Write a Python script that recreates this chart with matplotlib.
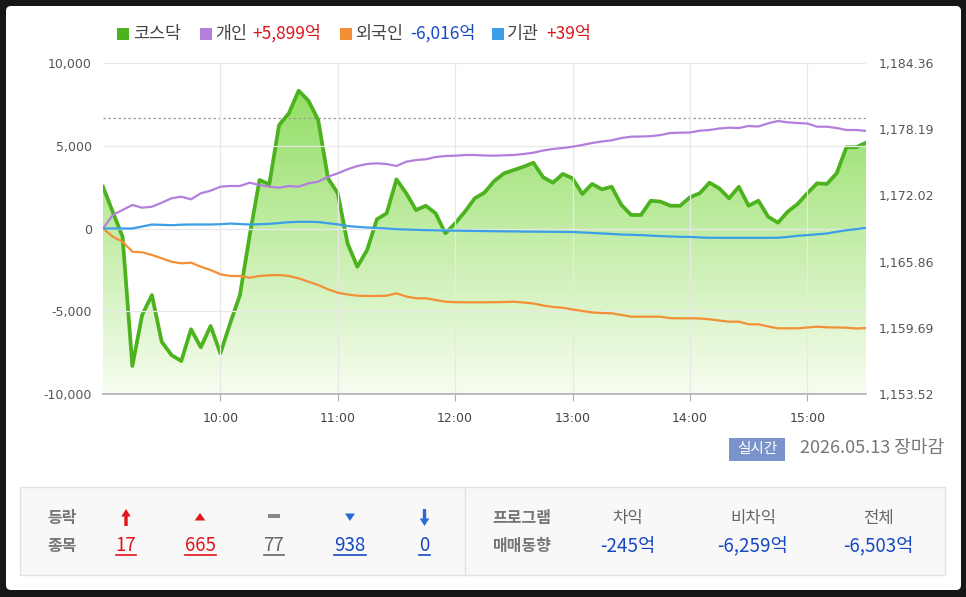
import numpy as np
import pandas as pd
import matplotlib
matplotlib.use('Agg')
import matplotlib.pyplot as plt
import matplotlib.dates as mdates
from matplotlib.patches import FancyBboxPatch, Rectangle, FancyArrow, Polygon
from matplotlib.ticker import FuncFormatter

plt.rcParams['font.family'] = ['Noto Sans CJK KR', 'DejaVu Sans']

# 5-minute points, 09:00 - 15:30
times = pd.date_range('2026-05-13 09:00', '2026-05-13 15:30', freq='5min')

# KOSDAQ index (right axis)
kosdaq = [
    1172.83, 1170.48, 1168.18, 1156.13, 1160.88, 1162.74, 1158.39, 1157.15, 1156.59, 1159.55, 1157.87, 1159.86,
    1157.31, 1160.11, 1162.74, 1168.33, 1173.46, 1173.06, 1178.58, 1179.67, 1181.78, 1180.85, 1179.05, 1173.62,
    1172.22, 1167.56, 1165.38, 1166.94, 1169.80, 1170.36, 1173.52, 1172.22, 1170.66, 1171.06, 1170.36, 1168.49,
    1169.42, 1170.51, 1171.75, 1172.29, 1173.37, 1174.08, 1174.39, 1174.70, 1175.07, 1173.71, 1173.21, 1174.02,
    1173.62, 1172.15, 1173.09, 1172.59, 1172.83, 1171.13, 1170.20, 1170.20, 1171.53, 1171.44, 1171.06, 1171.06,
    1171.85, 1172.22, 1173.21, 1172.68, 1171.75, 1172.83, 1171.06, 1171.53, 1170.04, 1169.48, 1170.51, 1171.22,
    1172.22, 1173.15, 1173.09, 1174.08, 1176.51, 1176.51, 1176.93,
]

# net buying, 억 (left axis)
individual = [
    0, 816, 1118, 1420, 1257, 1317, 1559, 1825, 1921, 1764, 2127, 2284,
    2526, 2568, 2568, 2767, 2628, 2526, 2465, 2568, 2526, 2731, 2828, 3130,
    3335, 3577, 3776, 3897, 3939, 3897, 3776, 4036, 4139, 4181, 4320, 4380,
    4399, 4441, 4441, 4411, 4399, 4423, 4441, 4501, 4580, 4713, 4803, 4864,
    4942, 5045, 5166, 5257, 5329, 5468, 5547, 5559, 5577, 5649, 5770, 5788,
    5800, 5909, 5951, 6042, 6090, 6072, 6193, 6163, 6356, 6495, 6416, 6374,
    6344, 6151, 6151, 6072, 5951, 5951, 5899,
]
foreign = [
    0, -495, -798, -1402, -1438, -1601, -1800, -2006, -2103, -2066, -2308, -2507,
    -2767, -2870, -2870, -2973, -2870, -2828, -2810, -2870, -3009, -3214, -3414, -3673,
    -3879, -3988, -4060, -4078, -4078, -4060, -3915, -4109, -4217, -4217, -4320, -4423,
    -4453, -4459, -4459, -4459, -4453, -4441, -4423, -4471, -4532, -4652, -4743, -4785,
    -4894, -4985, -5075, -5105, -5124, -5226, -5329, -5329, -5329, -5329, -5420, -5426,
    -5426, -5438, -5486, -5559, -5631, -5631, -5788, -5788, -5921, -6030, -6030, -6030,
    -5982, -5933, -5970, -5982, -5994, -6042, -6016,
]
institution = [
    0, 0, 0, 0, 120, 240, 220, 200, 230, 242, 242, 242,
    260, 300, 270, 242, 260, 280, 330, 380, 405, 405, 390, 320,
    250, 150, 100, 60, 30, 0, -42, -60, -80, -100, -110, -120,
    -130, -139, -145, -155, -163, -170, -175, -185, -190, -195, -199, -205,
    -210, -240, -270, -300, -330, -363, -380, -400, -430, -460, -480, -501,
    -510, -540, -560, -562, -562, -562, -562, -562, -562, -560, -510, -441,
    -400, -350, -302, -200, -103, -40, 39,
]

kosdaq_lim = (1153.52, 1184.36)
kosdaq_ref = 1179.23
flow_lim = (-10000, 10000)
flow_ticks = [-10000, -5000, 0, 5000, 10000]

legend_names = ['코스닥', '개인', '외국인', '기관']
legend_values = ['', '+5,899억', '-6,016억', '+39억']

updown_counts = ['17', '665', '77', '938', '0']
program_labels = ['차익', '비차익', '전체']
program_values = ['-245억', '-6,259억', '-6,503억']
date_text = '2026.05.13 장마감'

GREEN = '#4cb31f'
PURPLE = '#b47fdc'
ORANGE = '#f39035'
BLUE = '#3b9ee6'
RED = '#e0161c'
DBLUE = '#1748c4'
GRAY = '#777777'

fig = plt.figure(figsize=(9.66, 5.97), dpi=100)
fig.patch.set_facecolor('#161616')

# pixel overlay for frame, legend and bottom panel
bg = fig.add_axes([0, 0, 1, 1])
bg.set_xlim(0, 966)
bg.set_ylim(597, 0)
bg.axis('off')
bg.set_zorder(0)
bg.add_patch(FancyBboxPatch((6, 6), 955, 584, boxstyle='round,pad=0,rounding_size=5',
                            fc='white', ec='none'))

# main chart
rect = [103 / 966, 1 - 394 / 597, 763 / 966, 331 / 597]
ax = fig.add_axes(rect)
ax2 = ax.twinx()
ax.set_zorder(2)
ax2.set_zorder(1)
ax.patch.set_visible(False)
ax2.patch.set_visible(False)

# gradient area under kosdaq
x0, x1 = mdates.date2num(times[0]), mdates.date2num(times[-1])
top = np.array([138, 220, 88]) / 255
bot = np.array([247, 253, 240]) / 255
frac = np.linspace(0, 1, 256)[:, None]
grad = (top * (1 - frac) + bot * frac)[:, None, :]
poly = ax2.fill_between(times, kosdaq, kosdaq_lim[0], color='none', lw=0)
img = ax2.imshow(grad, extent=[x0, x1, kosdaq_lim[0], kosdaq_lim[1]], aspect='auto',
                 origin='upper', zorder=1)
img.set_clip_path(poly.get_paths()[0], transform=ax2.transData)
ax2.axhline(kosdaq_ref, color='#9a9a9a', lw=0.9, ls=(0, (2, 2)), zorder=2)
ax2.plot(times, kosdaq, color=GREEN, lw=2.7, zorder=3, solid_joinstyle='round')

ax.plot(times, individual, color=PURPLE, lw=1.6)
ax.plot(times, foreign, color=ORANGE, lw=1.6)
ax.plot(times, institution, color=BLUE, lw=1.6)

ax.set_xlim(times[0], times[-1])
ax.set_ylim(*flow_lim)
ax2.set_ylim(*kosdaq_lim)
ax.set_yticks(flow_ticks)
ax.yaxis.set_major_formatter(FuncFormatter(lambda v, p: f'{v:,.0f}'))
ax2.set_yticks(np.linspace(kosdaq_lim[0], kosdaq_lim[1], 6))
ax2.yaxis.set_major_formatter(FuncFormatter(lambda v, p: f'{v:,.2f}'))
ax.xaxis.set_major_locator(mdates.HourLocator(byhour=range(10, 16)))
ax.xaxis.set_major_formatter(mdates.DateFormatter('%H:%M'))

ax.grid(True, color='#e8e8e8', lw=0.9)
for s in ['top', 'left', 'right']:
    ax.spines[s].set_visible(False)
for s in ax2.spines.values():
    s.set_visible(False)
ax.spines['bottom'].set_color('#b0b0b0')
ax.spines['bottom'].set_linewidth(1.2)

ax.tick_params(axis='y', length=0, pad=8, labelsize=9, labelcolor='#555555',
               labelfontfamily='DejaVu Sans')
ax2.tick_params(axis='y', length=0, pad=9, labelsize=9, labelcolor='#555555',
                labelfontfamily='DejaVu Sans')
ax.tick_params(axis='x', length=5, color='#b0b0b0', pad=8, labelsize=9,
               labelcolor='#444444', labelfontfamily='DejaVu Sans')

# legend
sq_x = [117, 200, 340, 491.7]
name_x = [133, 215, 355, 507]
val_x = [None, 252.5, 410.5, 546]
val_col = [None, RED, DBLUE, RED]
colors = [GREEN, PURPLE, ORANGE, BLUE]
for i in range(4):
    bg.add_patch(Rectangle((sq_x[i], 27.5), 12, 12, fc=colors[i], ec='none'))
    bg.text(name_x[i], 33.5, legend_names[i], fontsize=12.5, color='#444444',
            ha='left', va='center')
    if legend_values[i]:
        bg.text(val_x[i], 33.5, legend_values[i], fontsize=12.5, color=val_col[i],
                ha='left', va='center')

# realtime badge + date
bg.add_patch(Rectangle((729, 437.5), 56, 23, fc='#7b93cb', ec='none'))
bg.text(757, 449, '실시간', color='white', fontsize=10.5, ha='center', va='center')
bg.text(800, 448.5, date_text, color=GRAY, fontsize=13, ha='left', va='center')

# bottom panel
bg.add_patch(Rectangle((20, 487), 925, 88, fc='#f8f8f8', ec='#e2e2e2', lw=1))
bg.plot([465, 465], [487, 575], color='#e2e2e2', lw=1)

bg.text(62, 518, '등락', fontsize=11.5, color=GRAY, fontweight='bold', ha='center', va='center')
bg.text(62, 546, '종목', fontsize=11.5, color=GRAY, fontweight='bold', ha='center', va='center')
bg.text(522, 518, '프로그램', fontsize=11.5, color=GRAY, fontweight='bold', ha='center', va='center')
bg.text(522, 546, '매매동향', fontsize=11.5, color=GRAY, fontweight='bold', ha='center', va='center')

col_x = [126, 200, 274, 350, 424.5]
col_c = [RED, RED, '#666666', DBLUE, DBLUE]
bg.add_patch(FancyArrow(col_x[0], 526, 0, -17, width=3.4, head_width=9.5, head_length=7.5,
                        length_includes_head=True, color=RED, lw=0))
bg.add_patch(Polygon([(194.7, 520.5), (205.3, 520.5), (200, 513)], color=RED, lw=0))
bg.add_patch(Rectangle((267.5, 514.3), 12.5, 3.4, fc='#888888', ec='none'))
bg.add_patch(Polygon([(345, 513.5), (355, 513.5), (350, 521)], color='#2a6ad8', lw=0))
bg.add_patch(FancyArrow(col_x[4], 509, 0, 17, width=3.4, head_width=9.5, head_length=7.5,
                        length_includes_head=True, color='#2a6ad8', lw=0))

fig.canvas.draw()
renderer = fig.canvas.get_renderer()
inv = bg.transData.inverted()
for x, s, c in zip(col_x, updown_counts, col_c):
    t = bg.text(x, 545.5, s, fontsize=13.5, color=c, ha='center', va='center')
    bb = t.get_window_extent(renderer)
    (l, _), (r, _) = inv.transform([(bb.x0, bb.y0), (bb.x1, bb.y0)])
    bg.plot([l, r], [554.5, 554.5], color=c, lw=1.2)

prog_x = [628, 753, 878]
for x, lab, val in zip(prog_x, program_labels, program_values):
    bg.text(x, 519, lab, fontsize=12, color='#666666', ha='center', va='center')
    bg.text(x, 546.5, val, fontsize=13.5, color=DBLUE, ha='center', va='center')

fig.savefig('out.png', dpi=100, facecolor=fig.get_facecolor())
